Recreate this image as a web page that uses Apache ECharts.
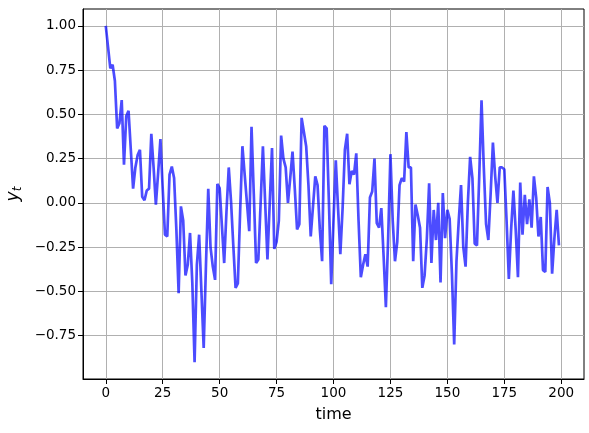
<!DOCTYPE html>
<html>
<head>
<meta charset="utf-8">
<script src="https://cdn.jsdelivr.net/npm/echarts@6/dist/echarts.min.js"></script>
<style>html,body{margin:0;padding:0;background:#fff;}#c{width:589px;height:433px;}</style>
</head>
<body>
<div id="c"></div>
<script>
const yValues = [
1.00,0.88,0.76,0.78,0.69,0.42,0.45,0.58,0.215,0.49,
0.52,0.30,0.08,0.20,0.27,0.30,0.035,0.015,0.07,0.08,
0.39,0.20,-0.01,0.17,0.36,0.08,-0.18,-0.19,0.16,0.205,
0.14,-0.15,-0.51,-0.02,-0.10,-0.41,-0.35,-0.17,-0.45,-0.90,
-0.35,-0.18,-0.50,-0.82,-0.35,0.08,-0.25,-0.36,-0.435,0.107,
0.083,-0.13,-0.34,-0.05,0.20,0.01,-0.24,-0.48,-0.455,-0.05,
0.32,0.16,0.00,-0.16,0.43,0.05,-0.34,-0.32,0.00,0.32,
0.00,-0.32,0.00,0.31,-0.26,-0.22,-0.10,0.38,0.25,0.20,
0.00,0.14,0.29,0.08,-0.15,-0.12,0.48,0.40,0.32,0.10,
-0.19,-0.02,0.15,0.10,-0.15,-0.33,0.435,0.42,0.00,-0.46,
-0.10,0.24,-0.03,-0.29,-0.03,0.30,0.39,0.105,0.18,0.16,
0.28,-0.10,-0.42,-0.35,-0.29,-0.36,0.03,0.064,0.25,-0.115,
-0.14,-0.03,-0.30,-0.59,-0.20,0.275,-0.10,-0.33,-0.22,0.10,
0.14,0.12,0.40,0.20,0.20,-0.33,-0.01,-0.07,-0.14,-0.48,
-0.41,-0.20,0.11,-0.34,-0.04,-0.21,0.00,-0.45,0.055,-0.20,
-0.04,-0.09,-0.40,-0.80,-0.33,-0.10,0.10,-0.25,-0.36,0.00,
0.26,0.14,-0.23,-0.24,0.15,0.58,0.20,-0.12,-0.21,0.05,
0.34,0.15,0.00,0.20,0.20,0.19,-0.10,-0.43,-0.15,0.07,
-0.15,-0.42,0.115,-0.18,0.045,-0.12,0.02,-0.14,0.15,0.03,
-0.19,-0.08,-0.38,-0.39,0.09,0.00,-0.40,-0.20,-0.04,-0.24
];
const timeIndex = yValues.map((_, i) => i);
const xTicks = [0, 25, 50, 75, 100, 125, 150, 175, 200];
const yTicks = [-0.75, -0.5, -0.25, 0, 0.25, 0.5, 0.75, 1.0];
const xName = 'time';

const seriesData = timeIndex.map((t, i) => [t, yValues[i]]);
const fmtY = v => (v < 0 ? '\u2212' : '') + Math.abs(v).toFixed(2);
const fmtX = v => (v < 0 ? '\u2212' : '') + Math.abs(v).toFixed(0);
const font = 'DejaVu Sans';

const chart = echarts.init(document.getElementById('c'), null, {renderer: 'canvas'});
chart.setOption({
  animation: false,
  backgroundColor: '#fff',
  grid: {left: 83, right: 5, top: 9, bottom: 54, show: true, borderColor: '#000', borderWidth: 1,
         backgroundColor: 'transparent', containLabel: false, outerBoundsMode: 'none'},
  xAxis: {
    type: 'value', min: -10, max: 210,
    name: xName, nameLocation: 'middle', nameGap: 28,
    nameTextStyle: {fontFamily: font, fontSize: 16, color: '#000'},
    axisLine: {show: true, onZero: false, lineStyle: {color: '#000', width: 1}},
    axisTick: {show: true, inside: false, length: 5, lineStyle: {color: '#000', width: 1}, customValues: xTicks},
    axisLabel: {customValues: xTicks, formatter: fmtX, fontFamily: font, fontSize: 13.5, color: '#000', margin: 7},
    splitLine: {show: true, lineStyle: {color: '#b0b0b0', width: 1}}
  },
  yAxis: {
    type: 'value', min: -0.995, max: 1.095,
    name: '{i|y}{s|t}', nameLocation: 'middle', nameGap: 58, nameRotate: 90,
    nameTextStyle: {
      rich: {
        i: {fontFamily: font, fontStyle: 'italic', fontSize: 17, color: '#000'},
        s: {fontFamily: font, fontStyle: 'italic', fontSize: 12, color: '#000', padding: [8, 0, 0, 0]}
      }
    },
    axisLine: {show: true, onZero: false, lineStyle: {color: '#000', width: 1}},
    axisTick: {show: true, inside: false, length: 5, lineStyle: {color: '#000', width: 1}, customValues: yTicks},
    axisLabel: {customValues: yTicks, formatter: fmtY, fontFamily: font, fontSize: 13.5, color: '#000', margin: 7},
    splitLine: {show: true, lineStyle: {color: '#b0b0b0', width: 1}}
  },
  series: [{
    type: 'line', data: seriesData, showSymbol: false, symbol: 'none',
    lineStyle: {color: 'rgba(0,0,255,0.7)', width: 2.7}, clip: true
  }]
});
</script>
</body>
</html>
